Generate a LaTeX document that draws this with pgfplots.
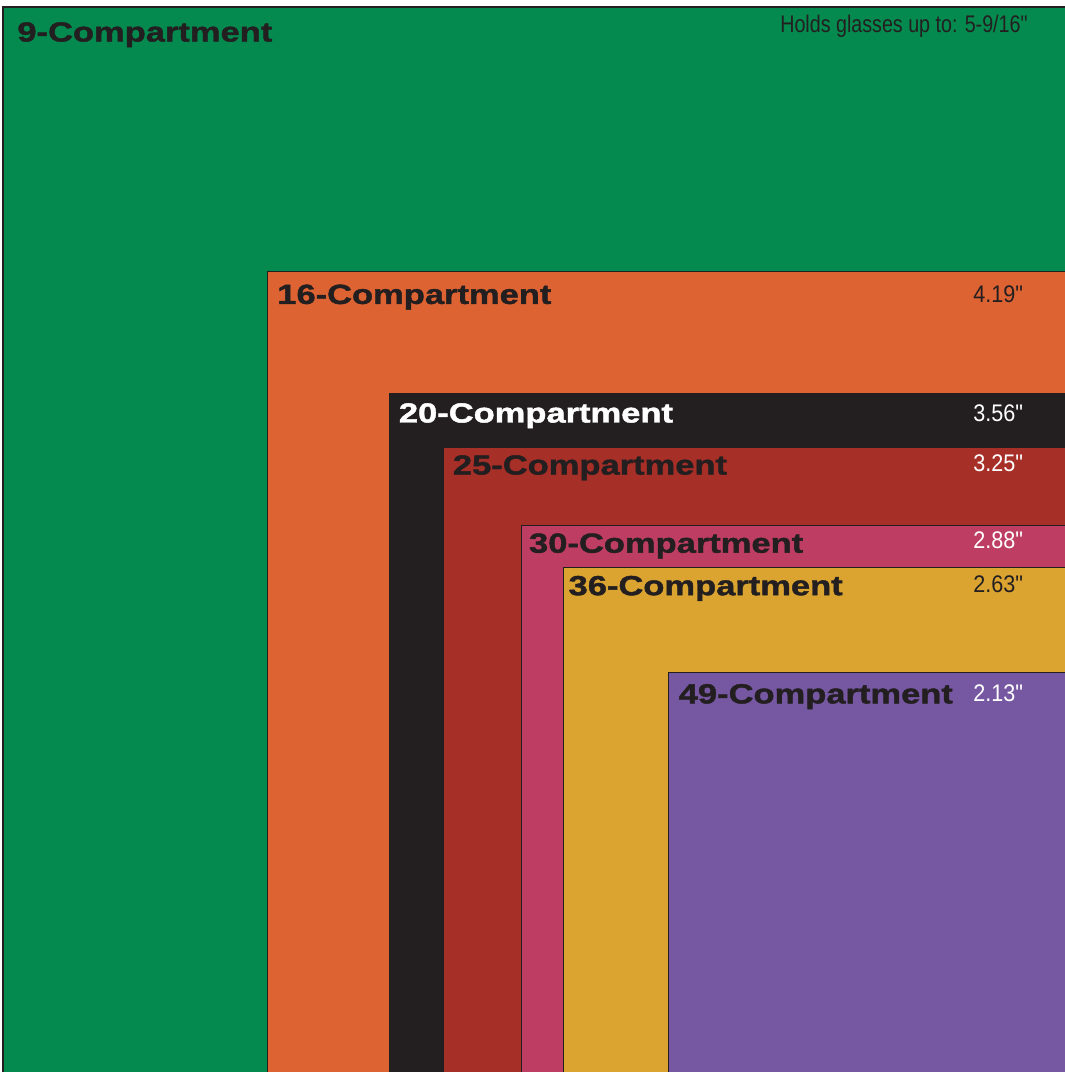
\documentclass[border=0pt]{standalone}
\usepackage{pgfplots}
\pgfplotsset{compat=1.18}
\usepackage{fontspec}
\setmainfont{Liberation Sans}
\newfontfamily\labfont[FakeStretch=1.25,FakeBold=1.6]{Liberation Sans Bold}
\newfontfamily\numfont[FakeStretch=0.9]{Liberation Sans}
\newfontfamily\holdfont[FakeStretch=0.82]{Liberation Sans}
\definecolor{cgreen}{HTML}{048A4E}
\definecolor{corange}{HTML}{DD6333}
\definecolor{cblack}{HTML}{231F20}
\definecolor{cbrown}{HTML}{A62F28}
\definecolor{cpink}{HTML}{BE3D62}
\definecolor{cyellow}{HTML}{DBA431}
\definecolor{cpurple}{HTML}{7657A2}
\definecolor{cdark}{HTML}{231F20}
\tikzset{
  lab/.style={anchor=base west, text=cdark, inner sep=0pt, font=\labfont\fontsize{13.8bp}{14bp}\selectfont},
  num/.style={anchor=base west, text=cdark, inner sep=0pt, font=\numfont\fontsize{12bp}{13bp}\selectfont},
}
\begin{document}
\begin{tikzpicture}
\begin{axis}[
  scale only axis, width=532.5bp, height=536bp,
  xmin=-5.5780, xmax=-0.0599, ymin=0.0444, ymax=5.5988,
  hide axis, clip=true,
  every axis plot/.append style={draw=cdark, line width=0.6bp},
]
% squares: side as drawn (inches), anchored at common bottom-right corner (0,0)
\addplot[fill=cgreen]  coordinates {(0,0) (-5.5625,0) (-5.5625,5.5625) (0,5.5625)} -- cycle;
\addplot[fill=corange] coordinates {(0,0) (-4.19,0) (-4.19,4.19) (0,4.19)} -- cycle;
\addplot[fill=cblack]  coordinates {(0,0) (-3.56,0) (-3.56,3.56) (0,3.56)} -- cycle;
\addplot[fill=cbrown]  coordinates {(0,0) (-3.28,0) (-3.28,3.28) (0,3.28)} -- cycle;
\addplot[fill=cpink]   coordinates {(0,0) (-2.875,0) (-2.875,2.875) (0,2.875)} -- cycle;
\addplot[fill=cyellow] coordinates {(0,0) (-2.66,0) (-2.66,2.66) (0,2.66)} -- cycle;
\addplot[fill=cpurple] coordinates {(0,0) (-2.115,0) (-2.115,2.115) (0,2.115)} -- cycle;

\node[lab, xshift=7bp,   yshift=-17.25bp] at (axis cs:-5.5625,5.5625) {9-Compartment};
\node[lab, xshift=4.5bp, yshift=-16bp]    at (axis cs:-4.19,4.19) {16-Compartment};
\node[lab, xshift=4.5bp, yshift=-14.5bp, text=white] at (axis cs:-3.56,3.56) {20-Compartment};
\node[lab, xshift=4.5bp, yshift=-13.5bp]  at (axis cs:-3.28,3.28) {25-Compartment};
\node[lab, xshift=3.5bp, yshift=-13.5bp]  at (axis cs:-2.875,2.875) {30-Compartment};
\node[lab, xshift=2.5bp, yshift=-14bp]    at (axis cs:-2.66,2.66) {36-Compartment};
\node[lab, xshift=5bp,   yshift=-15.5bp]  at (axis cs:-2.115,2.115) {49-Compartment};

\node[num, anchor=base east, yshift=-12.5bp, font=\holdfont\fontsize{12bp}{13bp}\selectfont] at (axis cs:-0.2516,5.5625) {Holds glasses up to: 5-9/16"};
\node[num, yshift=-15.5bp] at (axis cs:-0.5365,4.19) {4.19"};
\node[num, yshift=-14bp, text=white] at (axis cs:-0.5365,3.56) {3.56"};
\node[num, yshift=-12bp, text=white] at (axis cs:-0.5365,3.28) {3.25"};
\node[num, yshift=-11.5bp, text=white] at (axis cs:-0.5365,2.875) {2.88"};
\node[num, yshift=-12.5bp] at (axis cs:-0.5365,2.66) {2.63"};
\node[num, yshift=-14.5bp, text=white] at (axis cs:-0.5365,2.115) {2.13"};
\end{axis}
\pgfresetboundingbox
\useasboundingbox (current axis.south west) rectangle (current axis.north east);
\end{tikzpicture}
\end{document}
